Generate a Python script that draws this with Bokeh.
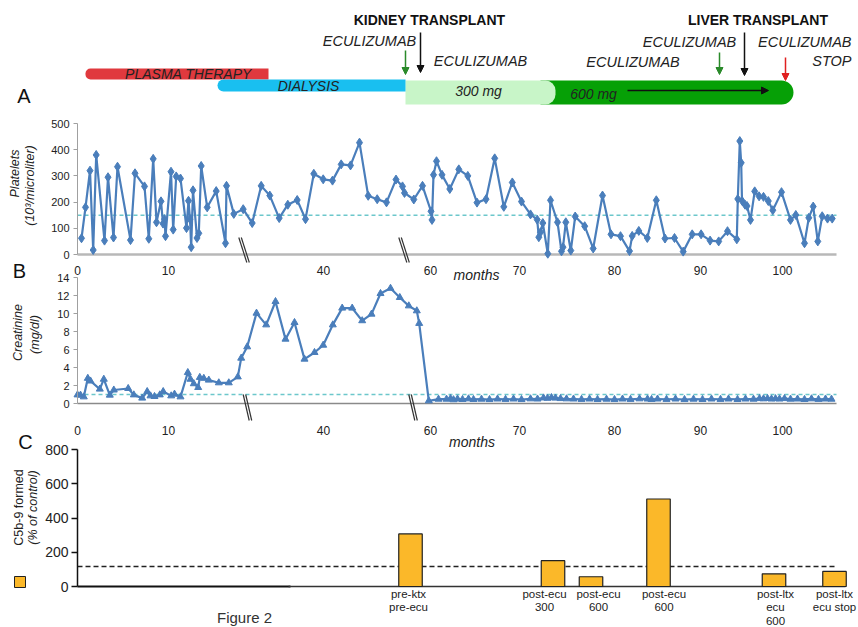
import math
from bokeh.plotting import figure
from bokeh.models import Range1d, FixedTicker, LinearAxis, Arrow, NormalHead
from bokeh.embed import file_html
from bokeh.resources import INLINE
from bokeh.core.properties import value

# ---------------- data (x = position along the broken time axis) ----------------
month_tick_pos = [0, 9.1, 24.6, 35.3, 44.2, 53.7, 62.3, 70.5]
month_tick_labels = ["0", "10", "40", "60", "70", "80", "90", "100"]

plt_pos = [0.40, 0.80, 1.25, 1.57, 1.87, 2.70, 3.05, 3.60, 4.00, 5.30,
           5.75, 6.70, 7.13, 7.57, 7.90, 8.35, 8.55, 8.70, 8.80, 9.35,
           9.57, 9.87, 10.30, 10.90, 11.10, 11.25, 11.37, 11.55, 11.95, 12.13,
           12.37, 12.97, 13.87, 14.80, 14.90, 15.63, 16.57, 17.47, 18.37, 19.23,
           20.17, 21.03, 21.97, 22.80, 23.63, 24.57, 25.50, 26.37, 27.30, 28.20,
           29.07, 29.97, 30.90, 31.85, 32.50, 32.70, 33.63, 34.50, 35.35, 35.45,
           35.60, 35.90, 36.45, 37.23, 38.13, 39.03, 39.95, 40.85, 41.72, 42.63,
           43.48, 44.40, 45.30, 45.97, 46.13, 46.30, 46.53, 47.03, 47.30, 48.00,
           48.40, 48.55, 48.83, 49.33, 49.77, 50.72, 51.57, 52.50, 53.35, 54.30,
           55.20, 55.47, 56.13, 56.98, 57.88, 58.75, 59.70, 60.57, 61.47, 62.36,
           63.26, 64.12, 65.00, 65.93, 66.03, 66.23, 66.37, 66.45, 66.75, 66.95,
           67.30, 67.72, 68.16, 68.60, 69.08, 69.53, 70.40, 71.30, 71.83, 72.70,
           73.13, 73.57, 74.03, 74.47, 75.00, 75.47]
plt_val = [62, 180, 320, 17, 380, 53, 295, 65, 335, 55,
           310, 260, 60, 365, 123, 203, 118, 135, 70, 316,
           95, 298, 290, 101, 205, 135, 28, 245, 63, 81,
           338, 180, 242, 43, 262, 155, 173, 120, 262, 225,
           139, 190, 208, 135, 308, 287, 282, 344, 340, 427,
           224, 211, 199, 286, 260, 235, 210, 262, 165, 132,
           304, 356, 304, 250, 325, 300, 198, 211, 367, 182,
           275, 202, 153, 133, 66, 85, 120, 3, 207, 123,
           12, 28, 123, 15, 145, 108, 23, 225, 77, 70,
           13, 71, 90, 63, 207, 61, 63, 11, 77, 77,
           53, 50, 89, 58, 212, 433, 350, 205, 190, 185,
           132, 241, 222, 220, 204, 169, 238, 132, 151, 43,
           140, 183, 50, 146, 137, 137]
platelet_ref = 150

crea_pos = [0.0, 0.3, 0.63, 1.03, 1.3, 2.23, 2.63, 3.23, 3.63, 5.07,
            5.63, 6.47, 6.97, 7.3, 7.7, 8.23, 8.57, 9.37, 9.7, 10.3,
            11.03, 11.3, 11.63, 12.07, 12.23, 12.63, 13.13, 14.13, 15.13, 16.03,
            16.37, 16.97, 17.9, 18.87, 19.8, 20.8, 21.7, 22.7, 23.7, 24.57,
            25.53, 26.47, 27.47, 28.47, 29.4, 30.3, 31.3, 32.23, 33.13, 33.93,
            34.17, 35.13, 36.1, 36.9, 37.3, 37.6, 38.0, 38.5, 39.1, 39.6,
            40.4, 41.2, 42.0, 42.8, 43.6, 44.4, 45.3, 46.0, 46.6, 47.0,
            47.4, 47.8, 48.3, 48.9, 49.6, 50.4, 51.2, 52.0, 52.9, 53.7,
            54.5, 55.3, 56.2, 57.0, 57.4, 58.0, 58.9, 59.8, 60.7, 61.6,
            62.5, 63.4, 64.3, 65.1, 66.0, 66.8, 67.6, 68.2, 68.6, 69.0,
            69.4, 69.8, 70.2, 70.7, 71.3, 72.0, 72.7, 73.4, 74.1, 74.8,
            75.4]
crea_val = [0.96, 0.93, 0.74, 2.8, 2.5, 1.6, 2.7, 0.93, 1.5, 1.67,
            0.96, 0.6, 1.33, 0.85, 0.78, 0.96, 1.33, 0.85, 1.04, 0.74,
            3.44, 2.7, 2.2, 1.78, 2.9, 2.8, 2.6, 2.3, 2.3, 2.96,
            5.04, 6.3, 10.04, 8.74, 11.33, 7.15, 9.0, 4.93, 5.67, 6.48,
            8.74, 10.6, 10.6, 9.2, 9.93, 12.22, 12.8, 11.78, 10.85, 10.3,
            8.9, 0.3, 0.48, 0.48, 0.55, 0.42, 0.5, 0.45, 0.52, 0.45,
            0.48, 0.44, 0.5, 0.46, 0.5, 0.44, 0.52, 0.5, 0.62, 0.58,
            0.66, 0.6, 0.55, 0.52, 0.5, 0.46, 0.5, 0.45, 0.48, 0.44,
            0.5, 0.46, 0.52, 0.5, 0.45, 0.5, 0.46, 0.5, 0.44, 0.48,
            0.45, 0.5, 0.46, 0.5, 0.45, 0.5, 0.48, 0.55, 0.52, 0.56,
            0.5, 0.54, 0.5, 0.55, 0.48, 0.5, 0.45, 0.52, 0.46, 0.5,
            0.48]
creatinine_ref = 1.0

c5b9_labels = ["pre-ktx\npre-ecu", "post-ecu\n300", "post-ecu\n600",
               "post-ecu\n600", "post-ltx\necu\n600", "post-ltx\necu stop"]
c5b9_pos = [33.3, 47.55, 51.35, 58.1, 69.65, 75.7]
c5b9_val = [307, 151, 57, 511, 74, 88]
c5b9_ref = 117

therapy_names = ["PLASMA THERAPY", "DIALYSIS"]
therapy_start = [0.8, 14.0]
therapy_end = [19.1, 32.8]
dose_labels = ["300 mg", "600 mg"]
dose_start = [32.8, 46.3]
dose_end = [47.8, 71.6]
kidney_tx, liver_tx = 34.3, 66.7
ecu_start, ecu_liver, ecu_stop = 32.8, 64.2, 70.8

# ---------------- layout helpers ----------------
FONT = "Liberation Sans"
TF = value(FONT)
BLUE = "#4a7ebb"
REF = "#6cc7cb"
ORANGE = "#fbb829"
W, H = 858, 627
UNIT_PX = 10.0
X0 = 77
LABEL_SHIFT = [-0.2, -0.85, 0.75, 0.55, 0.15, 0.0]   # text placement offsets under the bars


def ux(px):
    return (px - X0) / UNIT_PX


def py(page_y):
    return H - page_y


def scale_range(zero_px, px_per_unit):
    return Range1d((zero_px - H) / px_per_unit, zero_px / px_per_unit)


p = figure(width=W, height=H, x_range=Range1d(ux(0), ux(W)), y_range=Range1d(0, H),
           x_axis_type=None, y_axis_type=None, toolbar_location=None,
           output_backend="svg", min_border=0)
p.outline_line_color = None
p.grid.visible = False

p.extra_y_ranges = {
    "plt": scale_range(254, 131 / 500),
    "cre": scale_range(403, 9.0),
    "c5": scale_range(586, 137 / 800),
}


def y_axis(rng, bounds, ticks, color, size, tick_out, standoff, lw):
    ax = LinearAxis(y_range_name=rng, fixed_location=0, bounds=bounds,
                    ticker=FixedTicker(ticks=ticks))
    ax.axis_line_color = color
    ax.axis_line_width = lw
    ax.major_tick_line_color = color
    ax.major_tick_line_width = lw
    ax.major_tick_out = tick_out
    ax.major_tick_in = 0
    ax.minor_tick_line_color = None
    ax.major_label_text_font = FONT
    ax.major_label_text_font_size = size
    ax.major_label_text_color = "#222222"
    ax.major_label_standoff = standoff
    p.add_layout(ax, "left")


def x_axis(rng, standoff):
    ax = LinearAxis(y_range_name=rng, fixed_location=0, ticker=FixedTicker(ticks=month_tick_pos))
    ax.major_label_overrides = dict(zip(month_tick_pos, month_tick_labels))
    ax.axis_line_color = None
    ax.major_tick_line_color = None
    ax.minor_tick_line_color = None
    ax.major_label_text_font = FONT
    ax.major_label_text_font_size = "12px"
    ax.major_label_text_color = "#222222"
    ax.major_label_standoff = standoff
    p.add_layout(ax, "below")


def txt(x, y, text, size="12px", style="normal", angle=0.0, align="center",
        color="#222222", baseline="middle", **kw):
    p.text(x=[x], y=[y], text=[text], text_font=TF, text_font_size=size,
           text_font_style=style, angle=angle, text_align=align,
           text_baseline=baseline, text_color=color, **kw)


def arrow(x0, y0, x1, y1, c, lw=1.5):
    p.add_layout(Arrow(end=NormalHead(size=7, fill_color=c, line_color=c),
                       x_start=x0, y_start=y0, x_end=x1, y_end=y1,
                       line_color=c, line_width=lw))


# ---------------- timeline ----------------
p.quad(left=[dose_start[1]], right=[dose_end[1]], bottom=py(104), top=py(80),
       fill_color="#06a006", line_color=None, border_radius=(0, 12, 12, 0))
p.quad(left=[dose_start[0]], right=[dose_end[0]], bottom=py(104), top=py(80),
       fill_color="#c8f5c8", line_color=None, border_radius=(0, 10, 10, 0))
p.quad(left=[therapy_start[0]], right=[therapy_end[0]], bottom=py(79), top=py(68),
       fill_color="#e0393e", line_color=None, border_radius=(5, 0, 0, 5))
p.quad(left=[therapy_start[1]], right=[therapy_end[1]], bottom=py(91), top=py(79),
       fill_color="#19bff0", line_color=None, border_radius=(6, 0, 0, 6))

txt(ux(429), py(19), "KIDNEY TRANSPLANT", "14px", "bold", color="#111111")
txt(ux(757.5), py(19), "LIVER TRANSPLANT", "14px", "bold", color="#111111")
for cx, cyy in [(369, 40), (480, 60), (632.5, 61), (689, 41)]:
    txt(ux(cx), py(cyy), "ECULIZUMAB", "14.5px", "italic")
txt(ux(851), py(41), "ECULIZUMAB", "14.5px", "italic", align="right")
txt(ux(851), py(60), "STOP", "14.5px", "italic", align="right")
txt(ux(188), py(73.5), therapy_names[0], "14px", "italic")
txt(ux(308), py(85.5), therapy_names[1], "14px", "italic")
txt(ux(478), py(90), dose_labels[0], "14px", "italic")
txt(ux(593), py(93), dose_labels[1], "14px", "italic")
txt(ux(23.5), py(95), "A", "20px", color="#111111")

arrow(ecu_start, py(50), ecu_start, py(74), "#2a8a2a")
arrow(kidney_tx, py(32), kidney_tx, py(72), "#111111")
arrow(ecu_liver, py(52), ecu_liver, py(74), "#2a8a2a")
arrow(liver_tx, py(32), liver_tx, py(75), "#111111")
arrow(ecu_stop, py(57), ecu_stop, py(80), "#e02020")
arrow(ux(627), py(90), ux(768), py(90), "#111111")

# ---------------- panel A: platelets ----------------
y_axis("plt", (0, 500), [0, 100, 200, 300, 400, 500], "#a0a0a0", "11px", 4, 4, 1)
x_axis("plt", 5)
p.segment(x0=[0], y0=[0], x1=[ux(836)], y1=[0], y_range_name="plt",
          line_color="#b8b8b8", line_width=2.5)
p.segment(x0=[0], y0=[platelet_ref], x1=[ux(836)], y1=[platelet_ref], y_range_name="plt",
          line_color=REF, line_dash="4 3", line_width=1.5)
p.line(plt_pos, plt_val, y_range_name="plt", line_color=BLUE, line_width=2.2)
p.scatter(plt_pos, plt_val, y_range_name="plt", marker="diamond", size=9, color=BLUE)
for bx in (238.3, 398.3):
    p.segment(x0=[ux(bx), ux(bx + 2.5)], y0=[py(237)] * 2,
              x1=[ux(bx + 8.0), ux(bx + 10.5)], y1=[py(262)] * 2,
              line_color="#333333", line_width=1.2)
txt(ux(14), py(173), "Platelets", "12.5px", "italic", math.pi / 2)
txt(ux(29), py(185), "(10\u00b3/microliter)", "12.5px", "italic", math.pi / 2)
txt(ux(476), py(274), "months", "14px", "italic")
txt(ux(19), py(270), "B", "20px", color="#111111")

# ---------------- panel B: creatinine ----------------
y_axis("cre", (0, 14), list(range(0, 15, 2)), "#a0a0a0", "11px", 4, 4, 1)
x_axis("cre", 16)
p.segment(x0=[0], y0=[0], x1=[ux(836)], y1=[0], y_range_name="cre",
          line_color="#8a8a8a", line_width=1.5)
p.segment(x0=[0], y0=[creatinine_ref], x1=[ux(836)], y1=[creatinine_ref], y_range_name="cre",
          line_color=REF, line_dash="4 3", line_width=1.5)
p.line(crea_pos, crea_val, y_range_name="cre", line_color=BLUE, line_width=2.2)
p.scatter(crea_pos, crea_val, y_range_name="cre", marker="triangle", size=7, color=BLUE)
for bx in (242.7, 408.3):
    p.segment(x0=[ux(bx), ux(bx + 2.5)], y0=[py(394)] * 2,
              x1=[ux(bx + 6.0), ux(bx + 8.5)], y1=[py(420)] * 2,
              line_color="#333333", line_width=1.2)
txt(ux(17), py(332), "Creatinine", "12.5px", "italic", math.pi / 2)
txt(ux(34), py(334), "(mg/dl)", "12.5px", "italic", math.pi / 2)
txt(ux(471.5), py(441), "months", "14px", "italic")

# ---------------- panel C: C5b-9 ----------------
y_axis("c5", (0, 800), [0, 200, 400, 600, 800], "#111111", "14px", 6, 3, 1.5)
p.segment(x0=[0, ux(288)], y0=[0, 0], x1=[ux(290), ux(845)], y1=[0, 0], y_range_name="c5",
          line_color=["#111111", "#333333"], line_width=[2.2, 1.4])
p.segment(x0=[0], y0=[c5b9_ref], x1=[ux(836)], y1=[c5b9_ref], y_range_name="c5",
          line_color="#222222", line_dash="5 3", line_width=1.5)
p.vbar(x=c5b9_pos, top=c5b9_val, bottom=0, width=2.35, y_range_name="c5",
       fill_color=ORANGE, line_color="#222222", line_width=1.2)
p.text(x=[xp + d for xp, d in zip(c5b9_pos, LABEL_SHIFT)], y=[py(587)] * len(c5b9_pos),
       text=c5b9_labels, text_font=TF, text_font_size="11.5px", text_color="#222222",
       text_align="center", text_baseline="top", text_line_height=1.15)
p.quad(left=[ux(14)], right=[ux(25)], bottom=[py(587)], top=[py(576)],
       fill_color=ORANGE, line_color="#222222", line_width=1)
txt(ux(18), py(507), "C5b-9 formed", "12.5px", "normal", math.pi / 2)
txt(ux(32), py(507), "(% of control)", "12.5px", "italic", math.pi / 2)
txt(ux(25), py(441), "C", "20px", color="#111111")
txt(ux(244), py(617), "Figure 2", "15px", color="#333333")

open("out.html", "w").write(file_html(p, INLINE, "Figure 2"))
